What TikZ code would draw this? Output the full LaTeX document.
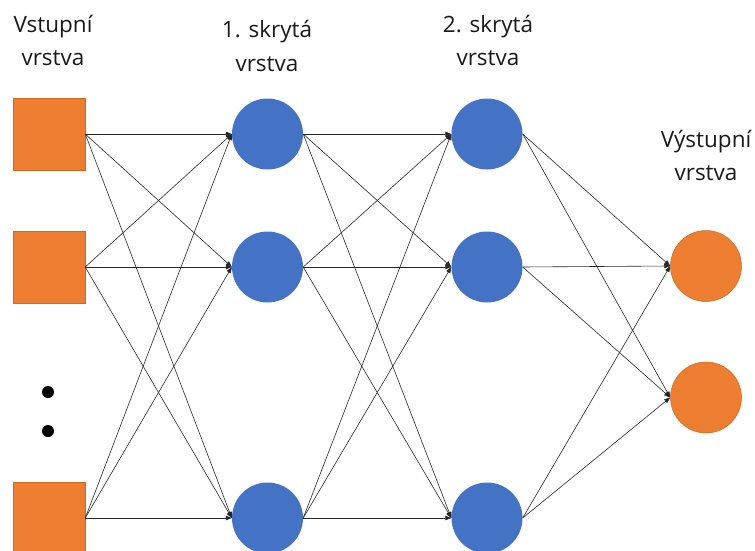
\documentclass[tikz,border=0pt]{standalone}
\usepackage{fontspec}
\setmainfont{Open Sans}
\usetikzlibrary{arrows.meta}
\definecolor{offorange}{HTML}{ED7D31}
\definecolor{offblue}{HTML}{4472C4}
\begin{document}
\begin{tikzpicture}[x=1pt,y=-1pt,
  insq/.style={rectangle,fill=offorange,draw=offorange!85!black,line width=0.5pt,minimum size=72pt,inner sep=0pt},
  hid/.style={circle,fill=offblue,minimum size=71pt,inner sep=0pt},
  outc/.style={circle,fill=offorange,draw=offorange!85!black,line width=0.5pt,minimum size=71pt,inner sep=0pt},
  conn/.style={draw=black!85,line width=0.6pt,-{Triangle[length=6pt,width=4.5pt]},shorten >=0pt},
  lbl/.style={font=\fontsize{22.5}{33}\selectfont,align=center,anchor=base,text=black!90,inner sep=0pt},
  dot/.style={circle,fill=black,minimum size=12pt,inner sep=0pt}]
\useasboundingbox (0,0) rectangle (755,551);
\node[insq] (i1) at (49,134) {};
\node[insq] (i2) at (49,267) {};
\node[insq] (i3) at (49,518) {};
\node[dot] (d1) at (48,392) {};
\node[dot] (d2) at (48,431) {};
\node[hid] (a1) at (267.5,134) {};
\node[hid] (a2) at (267.5,267) {};
\node[hid] (a3) at (267.5,518) {};
\node[hid] (b1) at (487,134) {};
\node[hid] (b2) at (487,267) {};
\node[hid] (b3) at (487,518) {};
\node[outc] (o1) at (706,266) {};
\node[outc] (o2) at (706,397.5) {};
\foreach \s in {i1,i2,i3}{\foreach \t in {a1,a2,a3}{\draw[conn] (\s.east) -- (\t.west);}}
\foreach \s in {a1,a2,a3}{\foreach \t in {b1,b2,b3}{\draw[conn] (\s.east) -- (\t.west);}}
\foreach \s in {b1,b2,b3}{\foreach \t in {o1,o2}{\draw[conn] (\s.east) -- (\t.west);}}
\node[lbl] (l1) at (53,66) {Vstupní\\vrstva};
\node[lbl] (l2) at (267,71) {1. skrytá\\vrstva};
\node[lbl] (l3) at (488,66) {2. skrytá\\vrstva};
\node[lbl] (l4) at (706,180) {Výstupní\\vrstva};
\end{tikzpicture}
\end{document}
